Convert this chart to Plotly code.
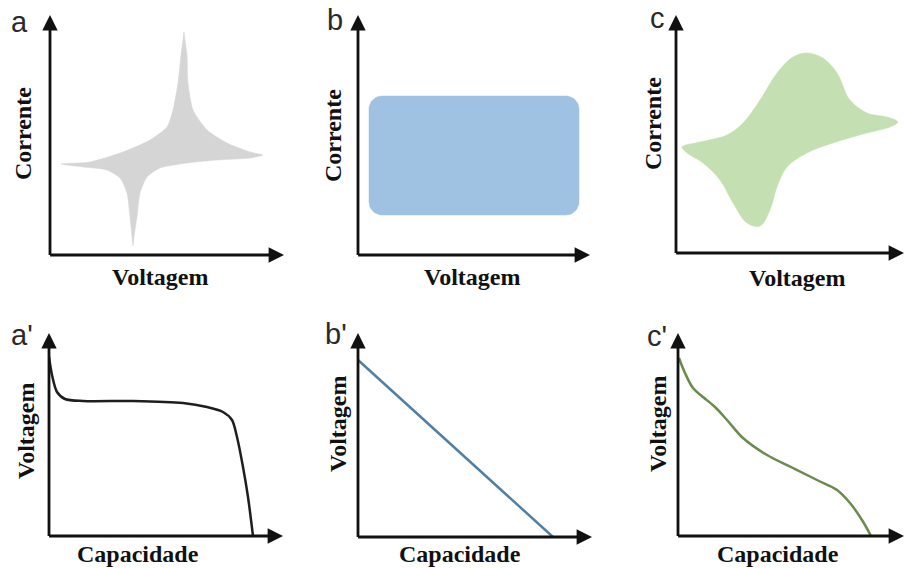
import numpy as np
import plotly.graph_objects as go

W, H = 904, 568

# ---------------- data (arbitrary units) ----------------
# a : battery-type CV (Voltagem, Corrente) outline
a_volt = [11, 40, 73, 100, 117, 123, 128, 131, 133, 134, 135, 137, 138, 143, 157, 177, 200, 213,
          200, 167, 137, 110, 97, 90, 87, 84, 83, 82, 80, 77, 70, 57, 33, 11]
a_curr = [91, 93, 103, 115, 128, 145, 172, 200, 215, 223, 215, 200, 172, 145, 125, 112, 103, 100,
          97, 95, 92, 87, 78, 62, 38, 18, 9, 18, 38, 62, 77, 85, 88, 91]

# b : capacitor-type CV (rectangular window)
b_volt_window = [11, 221]
b_curr_window = [40, 159]
b_corner = 13

# c : pseudocapacitive CV outline
c_volt = [6, 24, 51, 67, 84, 101, 117, 131, 147, 161, 174, 191, 211, 222,
          214, 191, 157, 131, 111, 101, 94, 84, 71, 57, 44, 27, 11, 6]
c_curr = [106, 111, 118, 130, 153, 180, 196, 200, 195, 180, 153, 140, 136, 131,
          126, 120, 110, 100, 86, 66, 43, 27, 30, 50, 73, 90, 100, 106]

# a' : battery discharge (Capacidade, Voltagem)
ap_cap = [0, 3, 8, 16, 34, 84, 134, 158, 174, 183, 188, 194, 199, 204]
ap_volt = [179, 161, 144, 137, 135, 135, 133, 129, 124, 116, 99, 69, 39, 0]

# b' : capacitor discharge
bp_cap = [0, 195]
bp_volt = [177, 0]

# c' : pseudocapacitor discharge
cp_cap = [1, 7, 15, 25, 37, 49, 65, 89, 115, 139, 159, 172, 184, 193]
cp_volt = [178, 163, 148, 139, 129, 116, 98, 81, 68, 56, 46, 33, 16, 0]

letters = ["a", "b", "c", "a'", "b'", "c'"]

# ---------------- layout helpers ----------------
# panel frames in pixels: (x origin, x end, y origin, y end)
frames = [
    (50, 284, 255, 15),
    (358, 590, 255, 15),
    (676, 904, 253, 15),
    (49, 283, 536, 333),
    (358, 592, 537, 333),
    (678, 904, 536, 333),
]


def px(x):
    return x / W


def py(y):
    return 1 - y / H


def rounded_rect(x0, x1, y0, y1, r, n=14):
    xs, ys = [], []
    corners = [(x1 - r, y1 - r, 0, 90), (x0 + r, y1 - r, 90, 180),
               (x0 + r, y0 + r, 180, 270), (x1 - r, y0 + r, 270, 360)]
    for cx, cy, t0, t1 in corners:
        t = np.radians(np.linspace(t0, t1, n))
        xs += list(cx + r * np.cos(t))
        ys += list(cy + r * np.sin(t))
    xs.append(xs[0])
    ys.append(ys[0])
    return xs, ys


fig = go.Figure()

# fills
fig.add_trace(go.Scatter(x=a_volt, y=a_curr, fill="toself", mode="lines",
                         line=dict(color="#d5d5d5", width=0.5, shape="spline", smoothing=0.6),
                         fillcolor="#d5d5d5", xaxis="x", yaxis="y"))
bx, by = rounded_rect(b_volt_window[0], b_volt_window[1], b_curr_window[0], b_curr_window[1], b_corner)
fig.add_trace(go.Scatter(x=bx, y=by, fill="toself", mode="lines",
                         line=dict(color="#9fc2e3", width=0.5),
                         fillcolor="#9fc2e3", xaxis="x2", yaxis="y2"))
fig.add_trace(go.Scatter(x=c_volt, y=c_curr, fill="toself", mode="lines",
                         line=dict(color="#c4e0b2", width=0.5, shape="spline", smoothing=1),
                         fillcolor="#c4e0b2", xaxis="x3", yaxis="y3"))
# discharge curves
fig.add_trace(go.Scatter(x=ap_cap, y=ap_volt, mode="lines",
                         line=dict(color="#1e1e1e", width=2.5, shape="spline", smoothing=0.8),
                         xaxis="x4", yaxis="y4"))
fig.add_trace(go.Scatter(x=bp_cap, y=bp_volt, mode="lines",
                         line=dict(color="#4f7fa5", width=2.5),
                         xaxis="x5", yaxis="y5"))
fig.add_trace(go.Scatter(x=cp_cap, y=cp_volt, mode="lines",
                         line=dict(color="#6a8b4e", width=2.5, shape="spline", smoothing=1),
                         xaxis="x6", yaxis="y6"))

layout = dict(width=W, height=H, margin=dict(l=0, r=0, t=0, b=0),
              paper_bgcolor="white", plot_bgcolor="rgba(0,0,0,0)", showlegend=False)
annotations = []
for i, (x0, x1, y0, y1) in enumerate(frames):
    k = "" if i == 0 else str(i + 1)
    xr = [0, x1 - x0]
    yr = [0, y0 - y1]
    layout["xaxis" + k] = dict(domain=[px(x0), px(x1)], range=xr, anchor="y" + k,
                               showgrid=False, zeroline=False, showticklabels=False,
                               ticks="", showline=False, fixedrange=True)
    layout["yaxis" + k] = dict(domain=[py(y0), py(y1)], range=yr, anchor="x" + k,
                               showgrid=False, zeroline=False, showticklabels=False,
                               ticks="", showline=False, fixedrange=True)
    common = dict(xref="x" + k, yref="y" + k, axref="x" + k, ayref="y" + k, text="",
                  showarrow=True, arrowhead=2, arrowsize=1.1, arrowwidth=2.8,
                  arrowcolor="#111111", standoff=0, startstandoff=0)
    annotations.append(dict(x=xr[1], y=0, ax=-1.4, ay=0, **common))
    annotations.append(dict(x=0, y=yr[1], ax=0, ay=-1.4, **common))

serif = dict(family="Liberation Serif, Times New Roman, serif", size=24, color="#111111")
sans = dict(family="Liberation Sans, Arial, sans-serif", size=29, color="#2a2a2a")

# axis titles
xlabels = [("Voltagem", 160, 277), ("Voltagem", 472, 277), ("Voltagem", 797, 278),
           ("Capacidade", 138, 554), ("Capacidade", 460, 554), ("Capacidade", 778, 554)]
ylabels = [("Corrente", 23, 134), ("Corrente", 333, 136), ("Corrente", 653, 124),
           ("Voltagem", 26, 431), ("Voltagem", 338, 424), ("Voltagem", 658, 424)]
for t, x, y in xlabels:
    annotations.append(dict(text="<b>%s</b>" % t, x=px(x), y=py(y), xref="paper", yref="paper",
                            showarrow=False, font=serif, xanchor="center", yanchor="middle"))
for t, x, y in ylabels:
    annotations.append(dict(text="<b>%s</b>" % t, x=px(x), y=py(y), xref="paper", yref="paper",
                            showarrow=False, font=serif, textangle=-90,
                            xanchor="center", yanchor="middle"))
letter_pos = [(19, 22), (335, 20), (657, 18), (22, 335), (336, 334), (657, 336)]
for t, (x, y) in zip(letters, letter_pos):
    annotations.append(dict(text=t, x=px(x), y=py(y), xref="paper", yref="paper",
                            showarrow=False, font=sans, xanchor="center", yanchor="middle"))

layout["annotations"] = annotations
fig.update_layout(**layout)
fig.write_html("out.html")
